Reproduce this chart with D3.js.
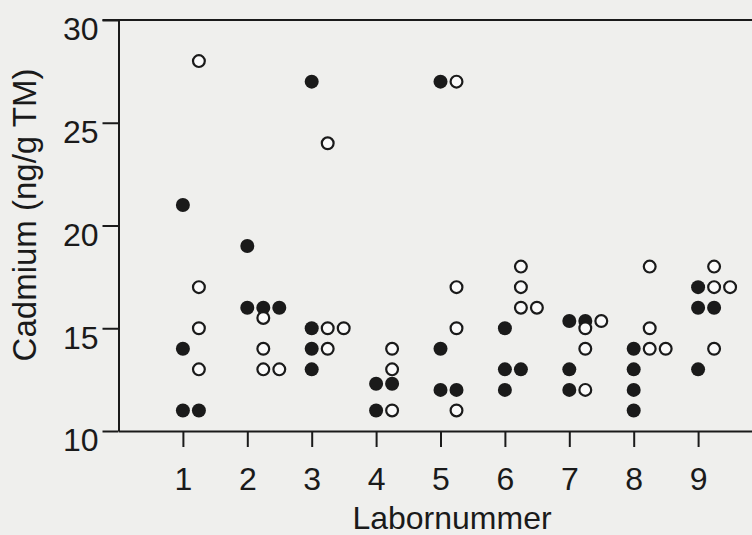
<!DOCTYPE html>
<html>
<head>
<meta charset="utf-8">
<script src="https://cdn.jsdelivr.net/npm/d3@7"></script>
<style>
  html, body { margin: 0; padding: 0; background: #efefed; }
  svg { display: block; }
  text { font-family: "Liberation Sans", Arial, sans-serif; fill: #1a1a1a; }
</style>
</head>
<body>
<div id="chart"></div>
<script>
// Labornummer 1..9, Cadmium (ng/g TM)
var labs = [1, 2, 3, 4, 5, 6, 7, 8, 9];
var filledValues = [
  [21, 14, 11, 11],
  [19, 16, 16, 16],
  [27, 15, 14, 13],
  [12.3, 12.3, 11],
  [27, 14, 12, 12],
  [15, 13, 13, 12],
  [15.35, 15.35, 13, 12],
  [14, 13, 12, 11],
  [17, 16, 16, 13]
];
var openValues = [
  [28, 17, 15, 13],
  [15.5, 14, 13, 13],
  [24, 15, 15, 14],
  [14, 13, 11],
  [27, 17, 15, 11],
  [18, 17, 16, 16],
  [15.35, 15, 14, 12],
  [18, 15, 14, 14],
  [18, 17, 17, 14]
];
var yTicks = [10, 15, 20, 25, 30];

var width = 752, height = 535;
var ink = "#1a1a1a";
var r = 7, step = 16;

var svg = d3.select("#chart").append("svg")
  .attr("width", width)
  .attr("height", height);

var x = d3.scaleLinear().domain([0, 10]).range([118.5, 762.5]);
var y = d3.scaleLinear().domain([10, 30]).range([431, 20]);

// frame: top line
svg.append("line")
  .attr("x1", x(0) - 16).attr("x2", x(10))
  .attr("y1", y(30)).attr("y2", y(30))
  .style("stroke", ink).style("stroke-width", 2);

// y axis
var yAxis = svg.append("g")
  .attr("transform", "translate(" + x(0) + ",0)")
  .call(d3.axisLeft(y).tickValues(yTicks).tickSize(16).tickSizeOuter(0).tickPadding(4));
yAxis.select(".domain").style("stroke", ink).style("stroke-width", 2);
yAxis.selectAll(".tick line").style("stroke", ink).style("stroke-width", 2);
yAxis.selectAll(".tick text")
  .style("font-size", "32px")
  .attr("dy", "0.62em")
  .attr("x", -20)
  .style("fill", ink);

// x axis
var xAxis = svg.append("g")
  .attr("transform", "translate(0," + y(10) + ")")
  .call(d3.axisBottom(x).tickValues(labs).tickFormat(d3.format("d")).tickSize(16).tickSizeOuter(0).tickPadding(20));
xAxis.select(".domain").style("stroke", ink).style("stroke-width", 2);
xAxis.selectAll(".tick line").style("stroke", ink).style("stroke-width", 2);
xAxis.selectAll(".tick text")
  .style("font-size", "32px")
  .attr("dy", "0.71em")
  .style("fill", ink);

// axis titles
svg.append("text")
  .attr("x", 452).attr("y", 529)
  .attr("text-anchor", "middle")
  .style("font-size", "32px")
  .text("Labornummer");

svg.append("text")
  .attr("transform", "translate(36,215) rotate(-90)")
  .attr("text-anchor", "middle")
  .style("font-size", "33px")
  .text("Cadmium (ng/g TM)");

// place points: filled start at column 0, open at column 1, equal values shift right
var points = [];
labs.forEach(function (lab, i) {
  var used = {};
  function place(v, start) {
    var key = String(v);
    used[key] = used[key] || [];
    var c = start;
    while (used[key].indexOf(c) !== -1) c++;
    used[key].push(c);
    return c;
  }
  filledValues[i].forEach(function (v) {
    points.push({ lab: lab, value: v, open: false, col: place(v, 0) });
  });
  openValues[i].forEach(function (v) {
    points.push({ lab: lab, value: v, open: true, col: place(v, 1) });
  });
});

svg.append("g").selectAll("circle")
  .data(points.filter(function (d) { return !d.open; }))
  .enter().append("circle")
  .attr("cx", function (d) { return x(d.lab) + d.col * step; })
  .attr("cy", function (d) { return y(d.value); })
  .attr("r", r)
  .style("fill", ink);

svg.append("g").selectAll("circle")
  .data(points.filter(function (d) { return d.open; }))
  .enter().append("circle")
  .attr("cx", function (d) { return x(d.lab) + d.col * step; })
  .attr("cy", function (d) { return y(d.value); })
  .attr("r", r - 1.1)
  .style("fill", "#fafafa")
  .style("stroke", ink)
  .style("stroke-width", 2.2);
</script>
</body>
</html>
